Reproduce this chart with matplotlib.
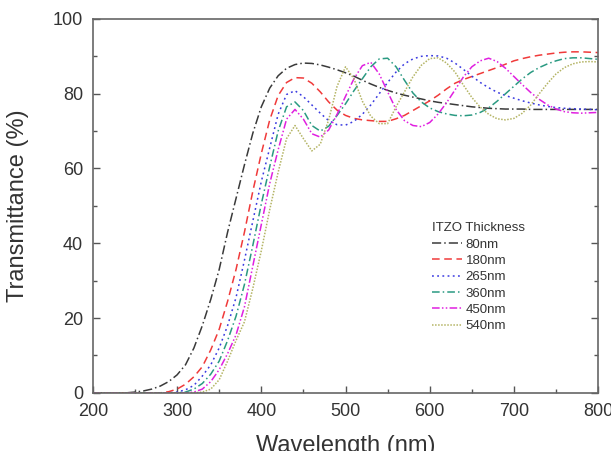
import numpy as np
import matplotlib
matplotlib.use('Agg')
import matplotlib.pyplot as plt
from matplotlib.ticker import MultipleLocator

plt.rcParams['font.family'] = ['Liberation Sans', 'DejaVu Sans']

# --- Data ---
wavelength = list(range(200, 810, 10))

t_80nm = [0, 0, 0, 0, 0, 0.2, 0.5, 1.0, 1.8, 3.0, 4.8, 7.5, 12, 18, 25, 33, 43, 52, 61, 69.5,
          76.5, 81.5, 84.8, 86.8, 87.8, 88.2, 88.1, 87.7, 87.1, 86.4, 85.6, 84.7, 83.6, 82.6,
          81.7, 80.9, 80.2, 79.6, 79.1, 78.6, 78.1, 77.7, 77.4, 77.1, 76.8, 76.5, 76.3, 76.1,
          76.0, 75.9, 75.9, 75.9, 75.8, 75.8, 75.8, 75.8, 75.8, 75.8, 75.8, 75.8, 75.8]

t_180nm = [0, 0, 0, 0, 0, 0, 0, 0, 0, 0.3, 1.0, 2.3, 4.3, 7.0, 11.5, 17, 24.5, 33, 43, 54,
           64, 73, 79.5, 83, 84.3, 84.2, 82.8, 80.5, 77.8, 75.6, 74.2, 73.4, 73.0, 72.8,
           72.6, 72.6, 73.3, 74.2, 75.5, 76.8, 78.1, 79.6, 81.3, 82.8, 83.8, 84.6, 85.4, 86.2,
           87.0, 87.9, 88.8, 89.4, 89.9, 90.3, 90.6, 90.9, 91.1, 91.2, 91.2, 91.1, 91.0]

t_265nm = [0, 0, 0, 0, 0, 0, 0, 0, 0, 0, 0.2, 0.8, 2.0, 4.5, 7.5, 12, 18, 25.5, 35.5, 46,
           56.5, 65.5, 74.5, 79.8, 80.8, 79.2, 77, 74.8, 72.8, 71.7, 71.6, 72.6, 74.5, 77,
           80, 83, 85.8, 88, 89.3, 90, 90.2, 90.1, 89.5, 88.2, 86.5, 84.7, 83, 81.6, 80.4,
           79.5, 78.8, 78.1, 77.5, 77, 76.6, 76.3, 76.1, 76, 75.9, 75.8, 75.7]

t_360nm = [0, 0, 0, 0, 0, 0, 0, 0, 0, 0, 0, 0.2, 1.0, 2.5, 5.0, 8.5, 14, 20.5, 29, 39.5,
           50.5, 60.5, 70, 76.5, 77.8, 75.5, 71.5, 70, 71.3, 74.2, 77.3, 80.8, 84, 87.2,
           89.3, 89.5, 87.2, 83.6, 80.2, 77.8, 76.2, 75.2, 74.6, 74.2, 74.1, 74.3, 75, 76.2,
           78, 80, 82, 84, 85.7, 87, 88, 88.8, 89.4, 89.6, 89.6, 89.4, 89.2]

t_450nm = [0, 0, 0, 0, 0, 0, 0, 0, 0, 0, 0, 0, 0.2, 1.0, 3.0, 6.2, 10.5, 15.5, 23, 34,
           45, 56, 65, 73.2, 75.8, 73.2, 69.3, 68.4, 70.3, 74.5, 79.3, 84, 87.5, 88.4, 85.3,
           80.5, 75.8, 72.8, 71.5, 71.2, 72.3, 74.6, 77.6, 81, 84.5, 87.2, 88.8, 89.5, 88.6,
           86.8, 84.6, 82.4, 80.3, 78.5, 77, 75.9, 75.2, 74.9, 74.8, 74.9, 75]

t_540nm = [0, 0, 0, 0, 0, 0, 0, 0, 0, 0, 0, 0, 0, 0.2, 1.0, 3.5, 8.5, 14, 19, 28,
           38, 49, 59, 68, 71.5, 68, 64.7, 66.5, 73, 82, 87.2, 84, 78, 74, 72, 72, 76.5,
           80.5, 84.5, 87.6, 89.4, 89.6, 88.2, 85.8, 82.3, 79, 76.4, 74.5, 73.3, 73, 73.4,
           74.8, 77, 80, 82.8, 85.3, 87, 88, 88.5, 88.6, 88.5]

labels = ['80nm', '180nm', '265nm', '360nm', '450nm', '540nm']
series = [t_80nm, t_180nm, t_265nm, t_360nm, t_450nm, t_540nm]
colors = ['#3a3a3a', '#f03a3a', '#3a3ae0', '#2a9a82', '#e020e0', '#b4b464']
styles = [(0, (6, 2, 1, 2)), (0, (5, 3)), (0, (1.2, 2.2)), (0, (5, 2, 1, 2)),
          (0, (5, 1.5, 1, 1.5, 1, 1.5)), (0, (1, 1))]

# --- Plot ---
fig = plt.figure(figsize=(6.11, 4.51), dpi=100)
ax = fig.add_axes([0.152, 0.129, 0.827, 0.829])

for y, lab, c, ls in zip(series, labels, colors, styles):
    ax.plot(wavelength, y, color=c, linestyle=ls, linewidth=1.1, label=lab)

ax.set_xlim(200, 800)
ax.set_ylim(0, 100)
ax.xaxis.set_major_locator(MultipleLocator(100))
ax.xaxis.set_minor_locator(MultipleLocator(50))
ax.yaxis.set_major_locator(MultipleLocator(20))
ax.yaxis.set_minor_locator(MultipleLocator(10))
ax.tick_params(which='both', direction='in', right=True, colors='#555555',
               labelcolor='#333333', labelsize=13)
ax.tick_params(which='major', length=5, width=1, pad=7)
ax.tick_params(which='minor', length=3, width=1)
for spine in ax.spines.values():
    spine.set_edgecolor('#666666')
    spine.set_linewidth(1.2)

ax.set_xlabel('Wavelength (nm)', fontsize=17, color='#333333', labelpad=11)
ax.set_ylabel('Transmittance (%)', fontsize=17, color='#333333', labelpad=17)

leg = ax.legend(title='ITZO Thickness', loc='upper left',
                bbox_to_anchor=(0.707, 0.507), bbox_transform=fig.transFigure,
                frameon=False, fontsize=9.5, title_fontsize=9.5,
                handlelength=2.3, handletextpad=0.25, labelspacing=0.31,
                borderaxespad=0, borderpad=0)
leg._legend_box.align = 'left'
for t in leg.get_texts():
    t.set_color('#333333')
leg.get_title().set_color('#333333')

fig.savefig('out.png', dpi=100)
